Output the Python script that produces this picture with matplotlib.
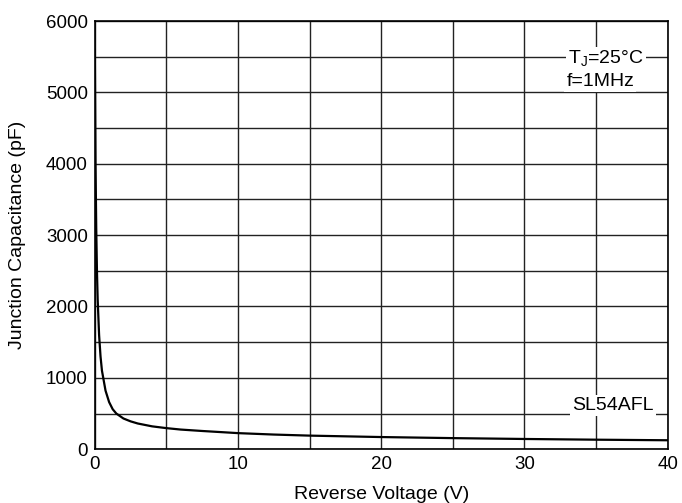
"""Junction capacitance vs reverse voltage for SL54AFL."""

import matplotlib.pyplot as plt
import numpy as np

plt.rcParams['font.family'] = ['Liberation Sans', 'DejaVu Sans']

voltage = [0, 0.05, 0.1, 0.15, 0.2, 0.3, 0.4, 0.5, 0.75, 1.0, 1.25, 1.5, 2, 2.5, 3, 4,
           5, 6, 7.5, 10, 12.5, 15, 20, 25, 30, 35, 40]
capacitance = [5600, 4000, 3100, 2500, 2100, 1600, 1300, 1100, 820, 660, 560, 500,
               430, 390, 360, 320, 295, 275, 255, 225, 205, 190, 170, 155, 143, 133, 125]

x_ticks = [0, 10, 20, 30, 40]
y_ticks = [0, 1000, 2000, 3000, 4000, 5000, 6000]

fig, ax = plt.subplots(figsize=(6.82, 5.03), dpi=100)
fig.subplots_adjust(left=0.139, right=0.979, top=0.958, bottom=0.107)

ax.set_xlim(0, 40)
ax.set_ylim(0, 6000)
ax.set_xticks(x_ticks)
ax.set_yticks(y_ticks)
ax.set_xticks(np.arange(0, 41, 5), minor=True)
ax.set_yticks(np.arange(0, 6001, 500), minor=True)
ax.grid(True, which='both', color='#222222', linewidth=1.0)
ax.set_axisbelow(True)
ax.tick_params(which='both', length=0, labelsize=13.5, pad=5)
for spine in ax.spines.values():
    spine.set_linewidth(1.2)

ax.plot(voltage, capacitance, color='black', linewidth=1.6)

box = dict(facecolor='white', edgecolor='none', pad=1.5)
ax.text(35.7, 5470, r'T$_\mathregular{J}$=25°C', ha='center', va='center', fontsize=14, bbox=box)
ax.text(35.3, 5160, 'f=1MHz', ha='center', va='center', fontsize=14, bbox=box)
ax.text(36.2, 615, 'SL54AFL', ha='center', va='center', fontsize=14, bbox=box)

ax.set_xlabel('Reverse Voltage (V)', fontsize=14, labelpad=9)
ax.set_ylabel('Junction Capacitance (pF)', fontsize=14, labelpad=14)

plt.savefig('out.png', dpi=100)
